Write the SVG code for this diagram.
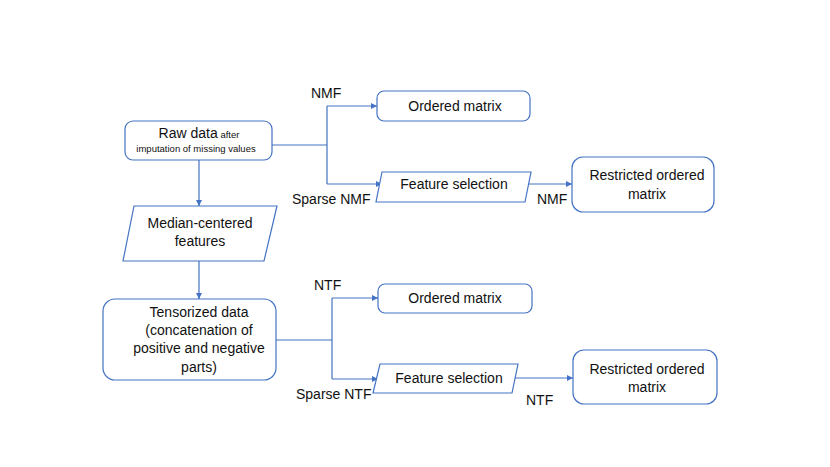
<svg xmlns="http://www.w3.org/2000/svg" width="830" height="467" viewBox="0 0 830 467">
<defs>
<style>
.box{fill:#fff;stroke:#4472C4;stroke-width:1.2}
.ln{fill:none;stroke:#4472C4;stroke-width:1.2}
text{font-family:"Liberation Sans",Arial,sans-serif;fill:#111;font-size:14px}
.c{text-anchor:middle}
.s{font-size:9.5px}
</style>
<marker id="ah" viewBox="0 0 10 10" refX="10" refY="5" markerWidth="6" markerHeight="6" orient="auto" markerUnits="userSpaceOnUse">
<path d="M0,0 L10,5 L0,10 z" fill="#4472C4"/>
</marker>
</defs>
<rect width="830" height="467" fill="#fff"/>
<g id="connectors">
<path class="ln" d="M272,145 H327 M327,106 V184"/>
<path class="ln" d="M327,106 H377" marker-end="url(#ah)"/>
<path class="ln" d="M327,184 H382" marker-end="url(#ah)"/>
<path class="ln" d="M528,184 H572" marker-end="url(#ah)"/>
<path class="ln" d="M199,160 V206" marker-end="url(#ah)"/>
<path class="ln" d="M199,261 V299" marker-end="url(#ah)"/>
<path class="ln" d="M276,340 H332 M332,298 V379"/>
<path class="ln" d="M332,298 H378" marker-end="url(#ah)"/>
<path class="ln" d="M332,379 H378" marker-end="url(#ah)"/>
<path class="ln" d="M515,378 H573" marker-end="url(#ah)"/>
<text x="311" y="98">NMF</text>
<text x="292" y="204">Sparse NMF</text>
<text x="537" y="204">NMF</text>
<text x="314" y="290">NTF</text>
<text x="296" y="399">Sparse NTF</text>
<text x="526" y="405">NTF</text>
</g>
<g id="raw">
<rect class="box" x="125" y="121" width="147" height="39" rx="8"/>
<text x="199" y="138" class="c"><tspan font-size="14">Raw data</tspan><tspan class="s"> after</tspan></text>
<text x="196" y="152" class="c s">imputation of missing values</text>
</g>
<g id="ordered1">
<rect class="box" x="377" y="91" width="153" height="30" rx="7"/>
<text x="455" y="111" class="c">Ordered matrix</text>
</g>
<g id="fs1">
<polygon class="box" points="382,172 531,172 525,202 376,202"/>
<text x="454" y="189" class="c">Feature selection</text>
</g>
<g id="restricted1">
<rect class="box" x="572" y="157" width="142" height="55" rx="11"/>
<text x="647" y="180" class="c">Restricted ordered</text>
<text x="647" y="199" class="c">matrix</text>
</g>
<g id="median">
<polygon class="box" points="134,206 277,206 264,261 123,261"/>
<text x="200" y="228" class="c">Median-centered</text>
<text x="200" y="246" class="c">features</text>
</g>
<g id="tensorized">
<rect class="box" x="103" y="299" width="173" height="81" rx="12"/>
<text x="199" y="317" class="c">Tensorized data</text>
<text x="199" y="335" class="c">(concatenation of</text>
<text x="199" y="353" class="c">positive and negative</text>
<text x="199" y="372" class="c">parts)</text>
</g>
<g id="ordered2">
<rect class="box" x="378" y="284" width="154" height="29" rx="7"/>
<text x="455" y="303" class="c">Ordered matrix</text>
</g>
<g id="fs2">
<polygon class="box" points="380,364 518,364 512,393 373,393"/>
<text x="449" y="383" class="c">Feature selection</text>
</g>
<g id="restricted2">
<rect class="box" x="573" y="350" width="144" height="54" rx="11"/>
<text x="647" y="374" class="c">Restricted ordered</text>
<text x="647" y="392" class="c">matrix</text>
</g>
</svg>
